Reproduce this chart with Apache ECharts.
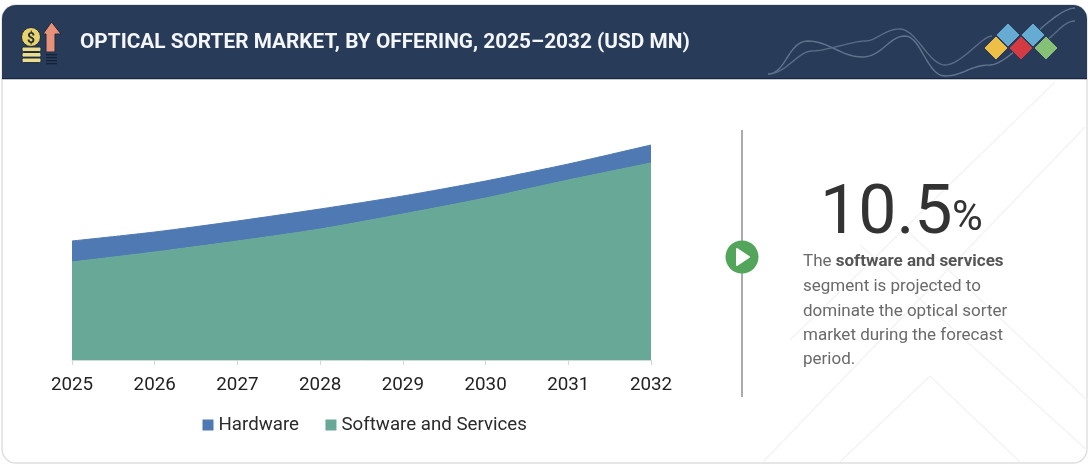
<!DOCTYPE html>
<html>
<head>
<meta charset="utf-8">
<style>html,body{margin:0;padding:0;background:#fff}#c{width:1092px;height:472px}</style>
<script src="https://cdn.jsdelivr.net/npm/echarts@6/dist/echarts.min.js"></script>
</head>
<body>
<div id="c"></div>
<script>
const years = ['2025','2026','2027','2028','2029','2030','2031','2032'];
const softwareAndServices = [98, 108, 119, 131, 146, 162, 180, 197];
const hardware = [21, 20, 20, 20, 18, 17, 16, 18];
const titleText = 'OPTICAL SORTER MARKET, BY OFFERING, 2025\u20132032 (USD MN)';
const cagrValue = '10.5';
const noteLines = ['segment is projected to', 'dominate the optical sorter', 'market during the forecast', 'period.'];

const F = 'Roboto, sans-serif';
const chart = echarts.init(document.getElementById('c'), null, {renderer: 'canvas'});

function faint(x1, y1, x2, y2) {
  return {type: 'line', silent: true, shape: {x1, y1, x2, y2}, style: {stroke: '#f3f3f3', lineWidth: 1.2}};
}
function diamond(cx, cy, color) {
  const r = 12;
  return {type: 'polygon', silent: true, shape: {points: [[cx, cy - r], [cx + r, cy], [cx, cy + r], [cx - r, cy]]},
    style: {fill: color, stroke: '#2a3d58', lineWidth: 1}};
}
function coin(y) {
  return {type: 'rect', silent: true, shape: {x: 22, y, width: 19, height: 4.6, r: 1.5},
    style: {fill: '#ecdc8e', stroke: '#1d2a3e', lineWidth: 1}};
}
function dash(y) {
  return {type: 'rect', silent: true, shape: {x: 46, y, width: 11, height: 1.3}, style: {fill: '#12203a'}};
}
function curve(d, color) {
  return {type: 'polyline', silent: true, shape: {points: d}, style: {stroke: color, fill: null, lineWidth: 1.4, lineJoin: 'round'}};
}
function bez(segs) {
  // flatten cubic segments for the decorative header waves
  const pts = [];
  for (let s = 0; s < segs.length - 1; s++) {
    const a = segs[s], b = segs[s + 1];
    const c1 = [a[0] + (a[2] || 0), a[1]], c2 = [b[0] - (b[2] || 0), b[1]];
    for (let i = 0; i <= 16; i++) {
      const t = i / 16, u = 1 - t;
      pts.push([
        u*u*u*a[0] + 3*u*u*t*c1[0] + 3*u*t*t*c2[0] + t*t*t*b[0],
        u*u*u*a[1] + 3*u*u*t*c1[1] + 3*u*t*t*c2[1] + t*t*t*b[1]
      ]);
    }
  }
  return pts;
}

const graphics = [
  {type: 'rect', silent: true, shape: {x: 2, y: 5, width: 1085, height: 458, r: 14},
    style: {fill: '#fff', stroke: '#dedede', lineWidth: 1.4}},
  faint(1055, 82, 790, 340),
  faint(1085, 127, 763, 462),
  faint(840, 462, 930, 376),
  faint(930, 376, 1020, 462),
  faint(903, 227, 1087, 400),
  faint(860, 245, 1087, 450),
  {type: 'rect', silent: true, shape: {x: 2, y: 5, width: 1085, height: 74, r: [14, 14, 0, 0]},
    style: {fill: '#283c5a'}},
  {type: 'rect', silent: true, shape: {x: 2, y: 78, width: 1085, height: 1.2}, style: {fill: '#16263f'}},
  curve(bez([[768,74,18],[808,41,20],[862,57,20],[905,36,16],[945,76,18],[990,65,20],[1075,8,22]]), '#62748d'),
  curve(bez([[768,74,18],[812,51,14],[865,41,12],[900,29,16],[945,65,16],[992,36,10]]), '#5a6d87'),
  curve(bez([[1040,42,12],[1075,21,14]]), '#5a6d87'),
  diamond(1008, 35, '#66acd2'),
  diamond(1033, 35, '#66acd2'),
  diamond(996, 48, '#eebf45'),
  diamond(1021, 48, '#d33a42'),
  diamond(1046, 48, '#86c077'),
  coin(47), coin(52.5), coin(58),
  {type: 'circle', silent: true, shape: {cx: 31, cy: 37, r: 9.5}, style: {fill: '#e9d46c', stroke: '#1d2a3e', lineWidth: 1}},
  {type: 'text', silent: true, style: {x: 31, y: 39, text: '$', fill: '#1d2a3e', font: '700 14px ' + F, align: 'center', verticalAlign: 'middle'}},
  {type: 'polygon', silent: true, shape: {points: [[51.5,22],[61,34],[55,34],[55,52],[46,52],[46,34],[43,34]]},
    style: {fill: '#e8917a', stroke: '#1d2a3e', lineWidth: 1}},
  dash(54), dash(57), dash(60), dash(63),
  {type: 'text', silent: true, style: {x: 80, y: 43, text: titleText, fill: '#f4f6f9', font: '700 20.8px ' + F, verticalAlign: 'middle'}},
  {type: 'rect', silent: true, shape: {x: 741, y: 130, width: 2, height: 267}, style: {fill: '#ababab'}},
  {type: 'circle', silent: true, shape: {cx: 742, cy: 257, r: 16.5}, style: {fill: '#52a55a'}},
  {type: 'polygon', silent: true, shape: {points: [[737,249],[749,257],[737,265]]},
    style: {fill: '#fff', stroke: '#fff', lineWidth: 2, lineJoin: 'round'}},
  {type: 'text', silent: true, style: {x: 820, y: 216, text: cagrValue, fill: '#333', font: '400 68px ' + F, verticalAlign: 'middle'}},
  {type: 'text', silent: true, style: {x: 952, y: 219.5, text: '%', fill: '#333', font: '400 42px ' + F, verticalAlign: 'middle'}},
  {type: 'text', silent: true, style: {x: 803, y: 262, text: '{a|The }{b|software and services}', verticalAlign: 'middle',
    rich: {a: {fill: '#6a6a6a', font: '400 17px ' + F}, b: {fill: '#555', font: '700 17px ' + F}}}}
];
noteLines.forEach((line, i) => {
  graphics.push({type: 'text', silent: true, style: {x: 803, y: 287 + i * 24.4, text: line, fill: '#6a6a6a', font: '400 17px ' + F, verticalAlign: 'middle'}});
});

chart.setOption({
  animation: false,
  backgroundColor: '#fff',
  graphic: {elements: graphics},
  grid: {left: 72, right: 441, top: 130, bottom: 112, containLabel: false},
  legend: {
    data: ['Hardware', 'Software and Services'],
    left: 202.5, top: 415.5, padding: 0, itemWidth: 11, itemHeight: 11, itemGap: 26.5, icon: 'rect',
    textStyle: {fontFamily: F, fontSize: 18.7, color: '#2b2b2b'}
  },
  xAxis: {
    type: 'category', data: years, boundaryGap: false,
    axisLine: {show: true, lineStyle: {color: '#cfdcd7', width: 1}},
    axisTick: {show: true, length: 5, lineStyle: {color: '#d6d6d6'}},
    axisLabel: {fontFamily: F, fontSize: 18.8, color: '#222', margin: 16}
  },
  yAxis: {type: 'value', min: 0, max: 230, show: false},
  series: [
    {name: 'Software and Services', type: 'line', stack: 'total', data: softwareAndServices, symbol: 'none', smooth: 0.25,
      itemStyle: {color: '#67a896'}, lineStyle: {color: '#67a896', width: 1}, areaStyle: {color: '#67a896', opacity: 1}},
    {name: 'Hardware', type: 'line', stack: 'total', data: hardware, symbol: 'none', smooth: 0.25,
      itemStyle: {color: '#4f79b2'}, lineStyle: {color: '#4f79b2', width: 1}, areaStyle: {color: '#4f79b2', opacity: 1}}
  ]
});
</script>
</body>
</html>
